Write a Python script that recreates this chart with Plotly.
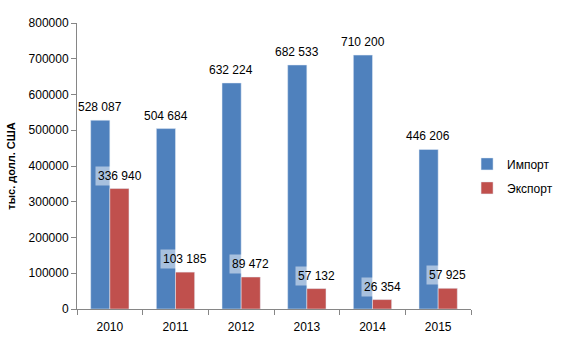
import plotly.graph_objects as go

years = ["2010", "2011", "2012", "2013", "2014", "2015"]
imports = [528087, 504684, 632224, 682533, 710200, 446206]
exports = [336940, 103185, 89472, 57132, 26354, 57925]
import_labels = ["528 087", "504 684", "632 224", "682 533", "710 200", "446 206"]
export_labels = ["336 940", "103 185", "89 472", "57 132", "26 354", "57 925"]

BLUE = "#4F81BD"
RED = "#C0504D"
FONT = "Liberation Sans, Arial, sans-serif"

xpos = list(range(len(years)))
bounds = [i - 0.5 for i in range(len(years) + 1)]

fig = go.Figure()
fig.add_trace(go.Bar(x=xpos, y=imports, name="Импорт", marker_color=BLUE,
                     legendgroup="a"))
fig.add_trace(go.Bar(x=xpos, y=exports, name="Экспорт", marker_color=RED,
                     legendgroup="b"))

ann = []
for xi, v, t in zip(xpos, imports, import_labels):
    ann.append(dict(x=xi, y=v, text=t, xshift=-9.7, yshift=13, showarrow=False,
                    xref="x", yref="y", font=dict(size=12, color="#000")))
for xi, v, t in zip(xpos, exports, export_labels):
    ann.append(dict(x=xi, y=v, text=t, xshift=9.7, yshift=13, showarrow=False,
                    xref="x", yref="y", bgcolor="rgba(255,255,255,0.5)",
                    borderpad=2, font=dict(size=12, color="#000")))

fig.update_layout(
    width=570, height=348,
    margin=dict(l=77, r=97, t=23, b=39),
    paper_bgcolor="white", plot_bgcolor="white",
    font=dict(family=FONT, size=12, color="#000"),
    barmode="group", bargap=0.417, bargroupgap=0,
    showlegend=True,
    legend=dict(x=0.99, y=0.558, xanchor="left", yanchor="top",
                font=dict(size=12), tracegroupgap=5, bgcolor="rgba(0,0,0,0)"),
    annotations=ann,
    xaxis=dict(range=[-0.5, 5.5], tickmode="array", tickvals=xpos, ticktext=years,
               showline=True, linecolor="#868686", linewidth=1,
               ticks="", showgrid=False, zeroline=False, tickfont=dict(size=12),
               ticklabelstandoff=7,
               minor=dict(tickmode="array", tickvals=bounds, ticks="outside",
                          ticklen=5, tickcolor="#868686", showgrid=False)),
    yaxis=dict(range=[0, 800000], dtick=100000, tickformat="d", showline=True,
               linecolor="#868686", linewidth=1, ticks="outside", ticklen=5,
               tickcolor="#868686", showgrid=False, zeroline=False,
               tickfont=dict(size=12),
               title=dict(text="<b>тыс. долл. США</b>", font=dict(size=11), standoff=10)),
)

fig.write_html("out.html")
